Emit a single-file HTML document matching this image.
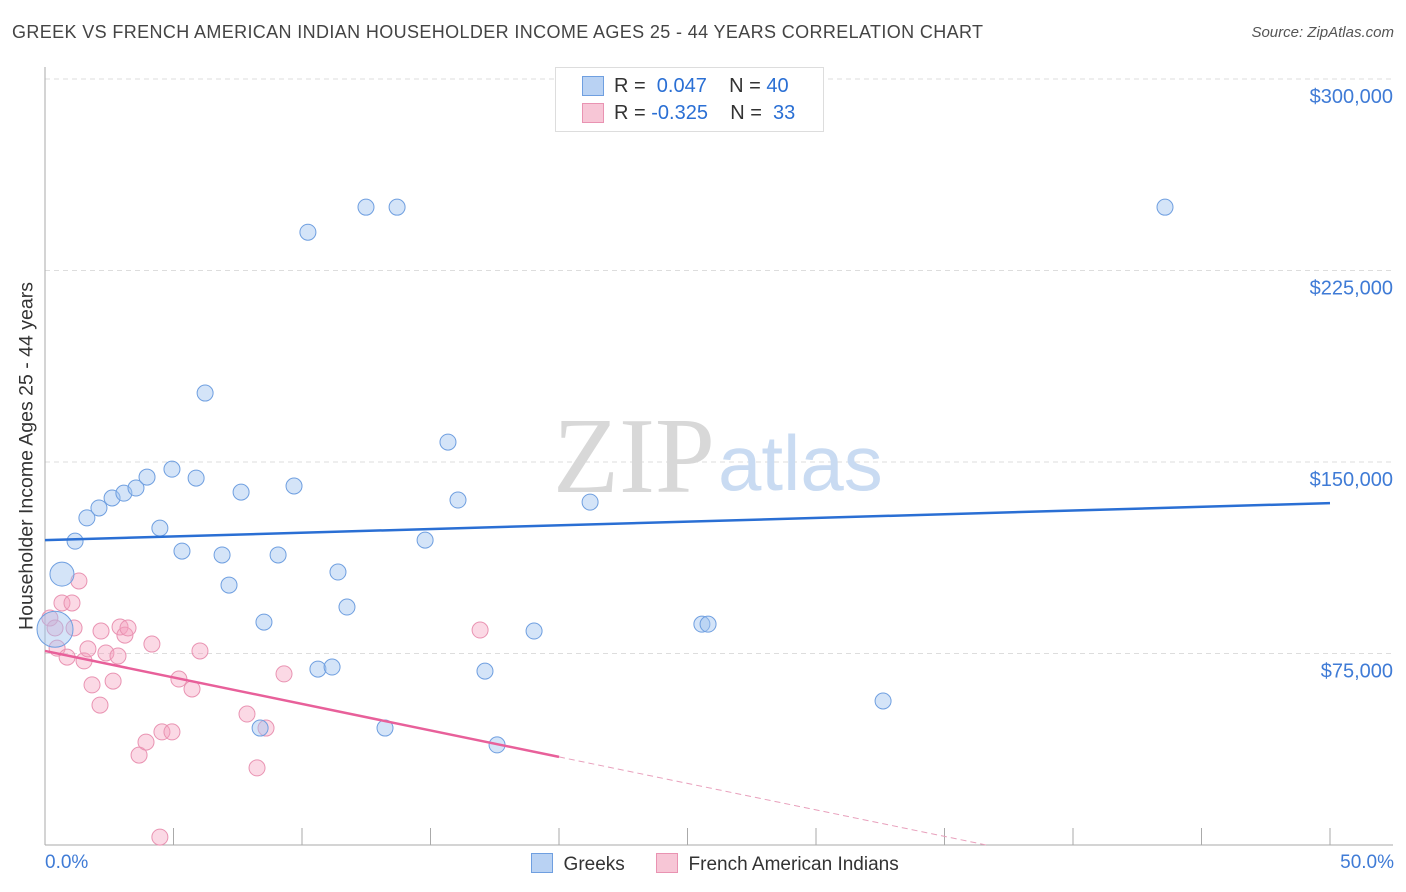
<!DOCTYPE html>
<html><head><meta charset="utf-8"><style>
body{margin:0;background:#fff;font-family:"Liberation Sans",sans-serif;}
#wrap{position:relative;width:1406px;height:892px;overflow:hidden;}
.t{position:absolute;white-space:nowrap;}
</style></head><body><div id="wrap">
<div class="t" style="left:12px;top:22px;font-size:18px;letter-spacing:0.37px;color:#444;">GREEK VS FRENCH AMERICAN INDIAN HOUSEHOLDER INCOME AGES 25 - 44 YEARS CORRELATION CHART</div>
<div class="t" style="right:12px;top:24px;font-size:15px;color:#555;font-style:italic;">Source: ZipAtlas.com</div>
<svg id="svg" width="1406" height="892" style="position:absolute;left:0;top:0"></svg>
</div>
<script>
const xTicks=[0,5,10,15,20,25,30,35,40,45,50];
const yTicks=[75000,150000,225000,300000];
const yTickLabels=["$75,000","$150,000","$225,000","$300,000"];
const greekX=[0.39,0.66,1.17,1.63,2.10,2.61,3.07,3.54,3.97,4.47,4.94,5.33,5.88,6.23,6.89,7.16,7.63,8.52,8.37,9.07,9.69,10.23,10.62,11.17,11.40,11.75,12.49,13.23,13.70,14.79,15.68,16.07,17.12,17.59,19.03,21.21,25.56,25.80,32.61,43.58];
const greekY=[84500,106100,119000,128100,132000,135900,137800,139800,144100,124100,147200,115100,143700,177000,113600,101800,138200,87300,45800,113600,140600,240000,68900,69700,106900,93200,249800,45800,249800,119400,157800,135100,68100,39200,83800,134300,86500,86500,56400,249800];
const frenchX=[0.19,0.39,0.47,0.66,0.86,1.05,1.13,1.32,1.52,1.67,1.83,2.14,2.18,2.37,2.65,2.84,2.92,3.11,3.23,3.66,3.93,4.16,4.47,4.55,4.94,5.21,5.72,6.03,7.86,8.25,8.60,9.30,16.93];
const frenchY=[88900,85000,77100,94800,73600,94800,85000,103400,72100,76800,62700,54800,83800,75200,64200,74000,85400,82200,85000,35200,40300,78700,3100,44300,44300,65000,61100,76000,51300,30200,45800,67000,84200];
const greekTrend=[119400,133900];
const frenchTrend=[76000,34500];
const X0=45,X1=1330,YB=845,PX=191.5/75000;
const sx=v=>X0+(v/50)*(X1-X0);
const sy=v=>YB-v*PX;
const svg=document.getElementById('svg');
const NS='http://www.w3.org/2000/svg';
function mk(t,a){const e=document.createElementNS(NS,t);for(const k in a)e.setAttribute(k,a[k]);svg.appendChild(e);return e;}
yTicks.forEach((v,i)=>{const g=mk('line',{x1:X0,x2:1393,y1:sy(v),y2:sy(v),stroke:'#ddd','stroke-dasharray':'5,4'});


const t=mk('text',{x:1393,y:sy(v)+24,'text-anchor':'end','font-size':20,fill:'#3f7bd6','font-family':'Liberation Sans'});t.textContent=yTickLabels[i];

});
const ax=mk('line',{x1:X0,x2:X0,y1:67,y2:YB,stroke:'#aaa'});


const bx=mk('line',{x1:X0,x2:1393,y1:YB,y2:YB,stroke:'#aaa'});


xTicks.forEach(v=>{const l=mk('line',{x1:sx(v),x2:sx(v),y1:828,y2:YB,stroke:'#aaa'});

});
const w1=mk('text',{x:553,y:492,'font-size':108,fill:'#d8d8d8','font-family':'Liberation Serif'});w1.textContent='ZIP';


const w2=mk('text',{x:718,y:490,'font-size':78,fill:'#c9dbf2','font-family':'Liberation Sans'});w2.textContent='atlas';


frenchX.forEach((x,i)=>{const c=mk('circle',{cx:sx(x),cy:sy(frenchY[i]),r:8,fill:'rgba(244,160,190,0.4)',stroke:'#e993b2','stroke-width':1});

});
greekX.forEach((x,i)=>{const r=i==0?18:(i==1?12:8);const c=mk('circle',{cx:sx(x),cy:sy(greekY[i]),r:r,fill:'rgba(160,195,240,0.45)',stroke:'#6f9fe0','stroke-width':1});

});
const gl=mk('line',{x1:sx(0),y1:sy(greekTrend[0]),x2:sx(50),y2:sy(greekTrend[1]),stroke:'#2a6fd4','stroke-width':2.5});


const slope=(frenchTrend[1]-frenchTrend[0])/20;const xz=-frenchTrend[0]/slope;
const fl=mk('line',{x1:sx(0),y1:sy(frenchTrend[0]),x2:sx(20),y2:sy(frenchTrend[1]),stroke:'#e8609a','stroke-width':2.5});


const fd=mk('line',{x1:sx(20),y1:sy(frenchTrend[1]),x2:sx(xz),y2:sy(0),stroke:'#e8a0bc','stroke-width':1,'stroke-dasharray':'6,4'});


</script>
<div class="t" style="left:27px;top:456px;font-size:19.5px;color:#333;transform:translate(-50%,-50%) rotate(-90deg);">Householder Income Ages 25 - 44 years</div>
<div class="t" style="left:45px;top:852px;font-size:19px;color:#3f7bd6;">0.0%</div>
<div class="t" style="right:12px;top:852px;font-size:19px;color:#3f7bd6;">50.0%</div>
<div style="position:absolute;left:555px;top:67px;width:267px;height:63px;border:1px solid #ddd;background:#fff;font-size:20px;color:#333;">
<div style="position:absolute;left:26px;top:8px;width:20px;height:18px;background:#b9d2f3;border:1px solid #6f9fe0"></div>
<div class="t" style="left:58px;top:7px">R = <span style="color:#2a6fd4">&nbsp;0.047</span>&nbsp;&nbsp;&nbsp; N = <span style="color:#2a6fd4">40</span></div>
<div style="position:absolute;left:26px;top:35px;width:20px;height:18px;background:#f7c6d6;border:1px solid #e993b2"></div>
<div class="t" style="left:58px;top:34px">R = <span style="color:#2a6fd4">-0.325</span>&nbsp;&nbsp;&nbsp; N = <span style="color:#2a6fd4">&nbsp;33</span></div>
</div>
<div style="position:absolute;left:531px;top:853px;font-size:19px;color:#333;">
<span style="display:inline-block;width:20px;height:18px;background:#b9d2f3;border:1px solid #6f9fe0;vertical-align:-3px"></span>&nbsp; Greeks</div>
<div style="position:absolute;left:656px;top:853px;font-size:19px;color:#333;">
<span style="display:inline-block;width:20px;height:18px;background:#f7c6d6;border:1px solid #e993b2;vertical-align:-3px"></span>&nbsp; French American Indians</div>
</body></html>
